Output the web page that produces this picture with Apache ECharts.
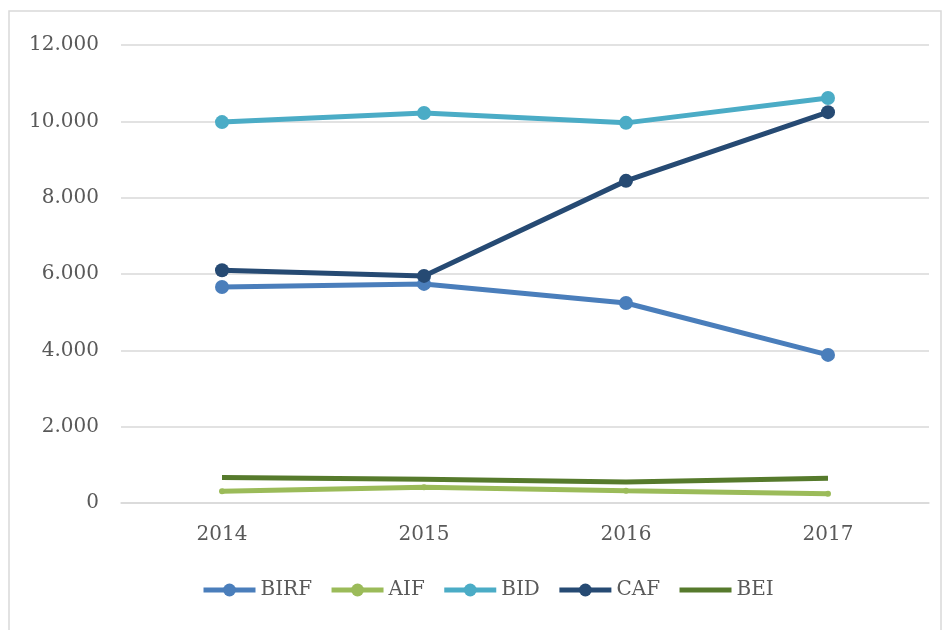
<!DOCTYPE html>
<html>
<head>
<meta charset="utf-8">
<script src="https://cdn.jsdelivr.net/npm/echarts@6/dist/echarts.min.js"></script>
<style>
    html, body { margin: 0; padding: 0; background: #fff; }
    #chart { width: 951px; height: 630px; }
</style>
</head>
<body>
<div id="chart"></div>
<script>
// data
var years = ['2014', '2015', '2016', '2017']
var birf = [5660, 5740, 5240, 3880]
var aif = [310, 410, 320, 240]
var bid = [9980, 10220, 9960, 10610]
var caf = [6100, 5950, 8440, 10240]
var bei = [670, 620, 550, 650]
var yTicks = [0, 2000, 4000, 6000, 8000, 10000, 12000]

var font = '"DejaVu Serif", "Liberation Serif", serif'

function fmt(v) {
    // 12000 -> 12.000
    return String(v).replace(/\B(?=(\d{3})+(?!\d))/g, '.')
}

function line(name, data, color, size) {
    return {
        name: name,
        type: 'line',
        data: data,
        symbol: size ? 'circle' : 'none',
        symbolSize: size || 0,
        showSymbol: !!size,
        itemStyle: { color: color },
        lineStyle: { color: color, width: 5 }
    }
}

var myChart = echarts.init(document.getElementById('chart'))
var option = {
    animation: false,
    graphic: [{
        type: 'rect',
        shape: { x: 9, y: 11, width: 932, height: 660 },
        style: { fill: 'none', stroke: '#d9d9d9', lineWidth: 1.5 },
        silent: true
    }],
    legend: {
        bottom: 25,
        left: 196,
        itemWidth: 52,
        itemHeight: 16,
        itemGap: 17,
        lineStyle: { width: 5 },
        textStyle: { fontFamily: font, fontSize: 20, color: '#595959' },
        data: ['BIRF', 'AIF', 'BID', 'CAF', { name: 'BEI', itemStyle: { opacity: 0 } }]
    },
    grid: {
        left: 121,
        right: 22,
        top: 45,
        bottom: 127
    },
    xAxis: {
        type: 'category',
        data: years,
        boundaryGap: true,
        axisLine: { lineStyle: { color: '#d9d9d9', width: 1.5 } },
        axisTick: { show: false },
        axisLabel: { fontFamily: font, fontSize: 20, color: '#595959', margin: 22 }
    },
    yAxis: {
        type: 'value',
        min: yTicks[0],
        max: yTicks[yTicks.length - 1],
        interval: 2000,
        axisLine: { show: false },
        axisTick: { show: false },
        splitLine: { lineStyle: { color: '#d9d9d9', width: 1.5 } },
        axisLabel: {
            fontFamily: font, fontSize: 20, color: '#595959', margin: 22,
            formatter: fmt
        }
    },
    series: [
        line('BIRF', birf, '#4a7ebb', 14),
        line('AIF', aif, '#9bbb59', 6),
        line('BID', bid, '#4bacc6', 14),
        line('CAF', caf, '#264a73', 14),
        line('BEI', bei, '#567a2c', 0)
    ]
}
myChart.setOption(option)
</script>
</body>
</html>
